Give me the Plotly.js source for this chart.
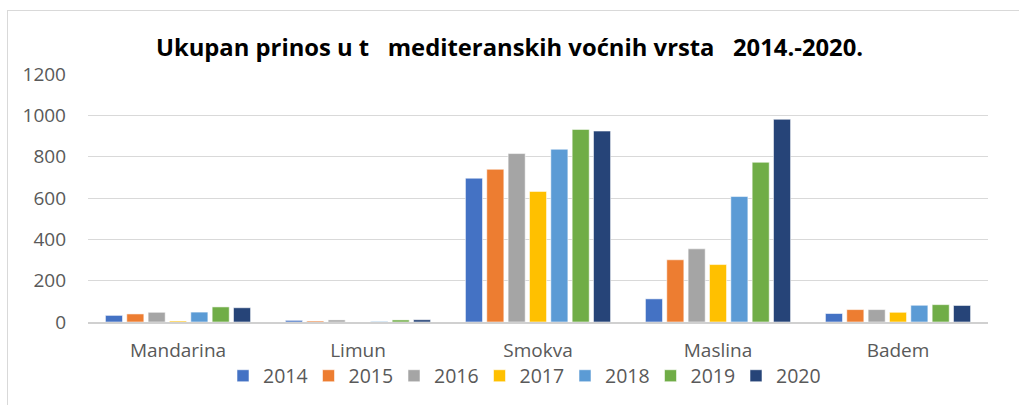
<!DOCTYPE html>
<html>
<head>
<meta charset="utf-8">
<script src="https://cdn.plot.ly/plotly-3.0.1.min.js"></script>
<style>
html,body{margin:0;padding:0;background:#fff;}
#wrap{position:relative;width:1019px;height:405px;overflow:hidden;}
#chart{width:1019px;height:405px;}
#frame{position:absolute;left:7px;top:10px;width:1100px;height:500px;border-left:1.5px solid #d9d9d9;border-top:1.5px solid #d9d9d9;pointer-events:none;}
</style>
</head>
<body>
<div id="wrap"><div id="chart"></div><div id="frame"></div></div>
<script>
const categories = ["Mandarina", "Limun", "Smokva", "Maslina", "Badem"];
const years = ["2014", "2015", "2016", "2017", "2018", "2019", "2020"];
const v2014 = [32, 8, 696, 112, 41];
const v2015 = [39, 5, 739, 301, 60];
const v2016 = [47, 10, 815, 354, 60];
const v2017 = [5, 0, 632, 278, 47];
const v2018 = [48, 3, 836, 607, 81];
const v2019 = [73, 10, 932, 773, 84];
const v2020 = [69, 11, 924, 981, 80];
const yTicks = [0, 200, 400, 600, 800, 1000, 1200];
const titleText = "Ukupan prinos u t&nbsp;&nbsp; mediteranskih voćnih vrsta&nbsp;&nbsp; 2014.-2020.";

const series = [v2014, v2015, v2016, v2017, v2018, v2019, v2020];
const colors = ["#4472C4", "#ED7D31", "#A5A5A5", "#FFC000", "#5B9BD5", "#70AD47", "#264478"];

const traces = series.map((vals, i) => ({
  type: "bar",
  name: years[i],
  x: categories,
  y: vals,
  marker: { color: colors[i], line: { color: "rgba(255,255,255,0.55)", width: 1 } },
  hoverinfo: "x+y+name"
}));
// empty spacer entry so the last legend label is not clipped
traces.push({
  type: "scatter", mode: "markers", name: " ",
  x: [null], y: [null],
  marker: { color: "rgba(0,0,0,0)", size: 1 },
  hoverinfo: "skip"
});

const layout = {
  width: 1019, height: 405,
  margin: { l: 88, r: 31, t: 74, b: 83, pad: 0, autoexpand: false },
  paper_bgcolor: "rgba(0,0,0,0)",
  plot_bgcolor: "#fff",
  font: { family: "Open Sans, sans-serif", color: "#595959" },
  title: {
    text: titleText,
    font: { family: "Open Sans, sans-serif", size: 23.8, color: "#000", weight: "bold" },
    x: 0.5, xanchor: "center", xref: "container",
    y: 1 - 48 / 405, yanchor: "middle", yref: "container"
  },
  barmode: "group",
  bargap: 0.17,
  bargroupgap: 0.2,
  xaxis: {
    type: "category",
    showgrid: false,
    showline: true, linecolor: "#d0d0d0", linewidth: 1.5,
    ticks: "",
    tickfont: { size: 19, color: "#595959" },
    ticklabelstandoff: 11,
    automargin: false,
    fixedrange: true
  },
  yaxis: {
    range: [0, 1200],
    tickvals: yTicks,
    ticktext: yTicks.map(String),
    showgrid: true, gridcolor: "#d9d9d9", gridwidth: 1,
    zeroline: false, showline: false, ticks: "",
    tickfont: { size: 19, color: "#595959" },
    ticklabelstandoff: 21,
    automargin: false,
    fixedrange: true
  },
  showlegend: true,
  legend: {
    orientation: "h",
    x: 0.150, xanchor: "left",
    y: -0.218, yanchor: "middle",
    font: { size: 19.5, color: "#595959" },
    itemwidth: 30,
    entrywidth: 40.5, entrywidthmode: "pixels",
    traceorder: "normal",
    bgcolor: "rgba(0,0,0,0)"
  }
};

Plotly.newPlot("chart", traces, layout, { displayModeBar: false, staticPlot: true });
</script>
</body>
</html>
